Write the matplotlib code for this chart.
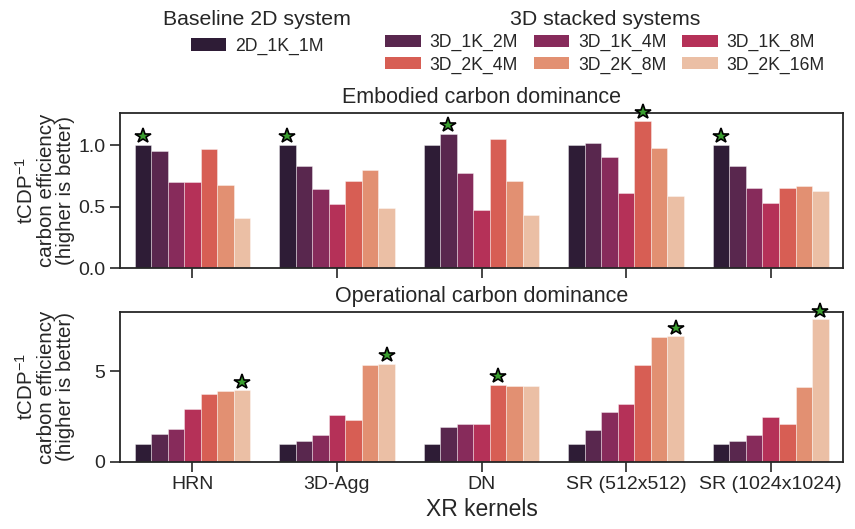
import numpy as np
import matplotlib
matplotlib.use("Agg")
import matplotlib.pyplot as plt
from matplotlib.patches import Patch
import seaborn as sns

plt.rcParams['font.family'] = ['Liberation Sans', 'DejaVu Sans']
plt.rcParams['mathtext.fontset'] = 'custom'
plt.rcParams['mathtext.rm'] = 'Liberation Sans'
plt.rcParams['mathtext.it'] = 'Liberation Sans:italic'
plt.rcParams['text.color'] = '#262626'
plt.rcParams['axes.labelcolor'] = '#262626'
plt.rcParams['xtick.color'] = '#262626'
plt.rcParams['ytick.color'] = '#262626'

kernels = ["HRN", "3D-Agg", "DN", "SR (512x512)", "SR (1024x1024)"]
systems = ["2D_1K_1M", "3D_1K_2M", "3D_1K_4M", "3D_1K_8M",
           "3D_2K_4M", "3D_2K_8M", "3D_2K_16M"]

# rows follow systems, columns follow kernels
embodied = [
    [1.00, 1.00, 1.00, 1.00, 1.00],
    [0.95, 0.83, 1.09, 1.02, 0.83],
    [0.70, 0.64, 0.77, 0.90, 0.65],
    [0.70, 0.52, 0.47, 0.61, 0.53],
    [0.97, 0.71, 1.05, 1.20, 0.65],
    [0.68, 0.80, 0.71, 0.98, 0.67],
    [0.41, 0.49, 0.43, 0.59, 0.63],
]
operational = [
    [1.00, 1.00, 1.00, 1.00, 1.00],
    [1.53, 1.16, 1.93, 1.76, 1.14],
    [1.80, 1.47, 2.10, 2.76, 1.49],
    [2.94, 2.61, 2.10, 3.20, 2.46],
    [3.75, 2.30, 4.25, 5.37, 2.06],
    [3.93, 5.35, 4.19, 6.89, 4.12],
    [3.95, 5.40, 4.21, 6.93, 7.87],
]

colors = [sns.desaturate(c, 0.75) for c in sns.color_palette("rocket", len(systems))]

fig = plt.figure(figsize=(8.55, 5.29), dpi=100)
ax_top = fig.add_axes([0.1404, 0.493, 0.8456, 0.293])
ax_bot = fig.add_axes([0.1404, 0.127, 0.8456, 0.283])

ylabel = "tCDP$^{-1}$\ncarbon efficiency\n(higher is better)"
width = 0.8 / len(systems)
x = np.arange(len(kernels))


def draw(ax, data, title, yticks, yticklabels):
    data = np.array(data)
    for j, name in enumerate(systems):
        ax.bar(x - 0.4 + width * (j + 0.5), data[j], width=width,
               color=colors[j], edgecolor=(1, 1, 1, 0.45), linewidth=0.6)
    top = data.max()
    best = data.argmax(axis=0)
    ax.plot(x - 0.4 + width * (best + 0.5), data.max(axis=0) + 0.06 * top,
            linestyle="none", marker="*", markersize=11.5,
            markerfacecolor="#3a9e2f", markeredgecolor="black",
            markeredgewidth=1.2, zorder=5, clip_on=False)
    ax.set_xlim(-0.5, len(kernels) - 0.5)
    ax.set_ylim(0, 1.05 * top)
    ax.set_yticks(yticks)
    ax.set_yticklabels(yticklabels)
    ax.set_xticks(x)
    ax.set_title(title, fontsize=15.5, pad=7)
    ax.set_ylabel(ylabel, fontsize=14.8, linespacing=1.0)
    ax.yaxis.set_label_coords(-0.062, 0.5)
    ax.tick_params(axis="both", length=7, width=1.2, labelsize=14)
    for s in ax.spines.values():
        s.set_linewidth(1.3)
        s.set_color('#262626')


draw(ax_top, embodied, "Embodied carbon dominance", [0, 0.5, 1.0], ["0.0", "0.5", "1.0"])
draw(ax_bot, operational, "Operational carbon dominance", [0, 5], ["0", "5"])
ax_top.set_xticklabels([])
ax_bot.set_xticklabels(kernels)
ax_bot.set_xlabel("XR kernels", fontsize=16.5, labelpad=3)

handles = [Patch(facecolor=c, label=s) for c, s in zip(colors, systems)]
fig.legend(handles=handles[:1], title="Baseline 2D system", loc="upper center",
           bbox_to_anchor=(257 / 855, 1.0), frameon=False, fontsize=12.7,
           title_fontsize=15.3, handletextpad=0.5, borderaxespad=0.15)
order = [1, 4, 2, 5, 3, 6]
fig.legend(handles=[handles[i] for i in order], title="3D stacked systems",
           loc="upper center", bbox_to_anchor=(605 / 855, 1.0), ncol=3,
           frameon=False, fontsize=12.7, title_fontsize=15.3, handletextpad=0.5,
           columnspacing=0.9, labelspacing=0.3, borderaxespad=0.15)

fig.savefig("out.png", dpi=100)
